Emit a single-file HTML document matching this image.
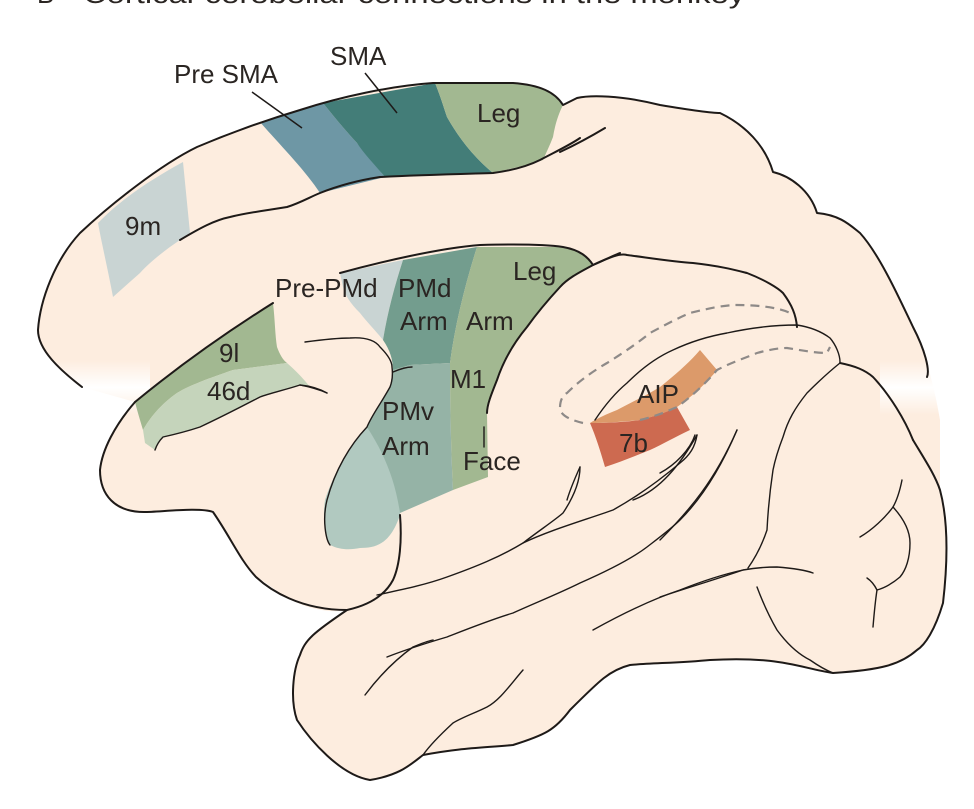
<!DOCTYPE html>
<html><head><meta charset="utf-8"><style>
html,body{margin:0;padding:0;background:#fff;}
svg{display:block;}
text{font-family:"Liberation Sans",Arial,sans-serif;font-size:26px;fill:#2a2522;}
</style></head><body>
<svg width="974" height="809" viewBox="0 0 974 809" xmlns="http://www.w3.org/2000/svg">
<defs>
<linearGradient id="fadeL" x1="0" y1="0" x2="0" y2="1">
<stop offset="0" stop-color="#fff" stop-opacity="0"/>
<stop offset="0.5" stop-color="#fff" stop-opacity="1"/>
<stop offset="1" stop-color="#fff" stop-opacity="0"/>
</linearGradient>
</defs>
<text x="37" y="3" font-size="28">B</text>
<text x="83" y="3" font-size="28" textLength="662" lengthAdjust="spacingAndGlyphs">Cortical-cerebellar connections in the monkey</text>

<!-- silhouette fill -->
<path fill="#fdeddf" d="M82,387 C60,370 38,350 38,330 C40,300 55,260 80,233 C110,205 160,165 197,147 C230,133 260,122 300,110 C340,97 390,86 433,83 L513,83 C540,85 555,92 563,105 L577,98 C590,95 620,95 660,105 C690,110 710,113 720,113 C745,125 765,145 773,172 C790,176 810,190 817,213 C840,215 850,225 860,233 C880,255 900,300 913,327 C925,350 935,390 940,420 L940,490 C948,520 948,560 943,603 C935,630 925,645 917,650 C900,665 880,670 833,673 C800,668 780,656 710,660 C680,663 650,663 630,665 C610,670 600,680 570,710 C555,730 545,735 513,745 C480,748 460,748 423,755 C410,765 400,775 370,780 C340,775 310,740 297,720 C290,700 293,670 300,655 C305,640 313,633 347,610 C330,614 300,608 280,593 C265,583 258,577 256,577 C240,560 231,538 213,512 C200,507 160,512 144,512 C115,515 100,495 100,470 C102,450 110,430 135,402 Z"/>
<rect x="0" y="360" width="150" height="55" fill="url(#fadeL)"/>
<rect x="880" y="360" width="94" height="55" fill="url(#fadeL)"/>

<!-- colored regions -->
<path fill="#c9d4d3" d="M98,223 C120,200 150,180 183,162 L190,233 L180,240 C165,250 150,262 140,273 L113,297 C108,270 102,245 98,223 Z"/>
<path fill="#6e97a5" d="M260,122 L323,103 C335,118 345,130 357,143 L385,177 L320,193 C305,170 280,145 260,122 Z"/>
<path fill="#437d78" d="M323,103 L435,83 C440,95 443,105 447,117 C460,140 475,158 493,173 L385,177 C375,165 365,155 357,143 C345,130 335,118 323,103 Z"/>
<path fill="#a2b891" d="M435,83 L513,83 C540,85 555,92 563,105 C558,115 555,125 553,137 C550,145 546,153 543,160 C520,167 505,170 493,173 C475,158 460,140 447,117 C443,105 440,95 435,83 Z"/>

<path fill="#c9d4d3" d="M340,273 L403,260 C395,285 388,310 383,340 C375,330 367,322 360,313 C350,303 345,295 343,287 Z"/>
<path fill="#739d8e" d="M403,260 L477,247 C465,285 455,325 450,363 L410,365 L393,370 C393,360 390,350 383,340 C388,310 395,285 403,260 Z"/>
<path fill="#a2b891" d="M477,247 L563,247 C580,250 588,257 593,265 C580,272 568,278 560,287 C548,300 537,313 527,327 C512,345 503,362 497,380 C491,395 487,405 487,413 L488,477 L453,490 C451,450 450,405 450,363 C455,325 465,285 477,247 Z"/>
<path fill="#b1c9c0" d="M392,367 C392,375 391,382 390,387 C380,405 372,415 367,427 C350,445 335,470 325,500 C322,520 326,540 330,545 C340,550 350,550 360,548 C375,548 390,545 400,515 L400,500 Z"/>
<path fill="#95b3a6" d="M393,370 L410,365 L450,363 C450,405 451,450 453,490 L400,513 C395,480 385,455 367,427 C372,415 380,405 390,387 Z"/>
<path fill="#a2b891" d="M273,303 C275,320 275,335 277,347 C280,355 283,360 287,363 L233,370 C210,378 190,385 177,393 C160,405 150,418 143,430 C140,420 137,410 135,402 C180,365 230,330 273,303 Z"/>
<path fill="#c5d4bb" d="M287,363 C295,370 303,378 310,387 L300,385 C285,390 270,393 260,397 C235,410 215,420 200,427 C185,432 172,435 163,437 C158,442 156,447 155,450 L145,443 L143,430 C150,418 160,405 177,393 C190,385 210,378 233,370 Z"/>
<path fill="#dc9a6a" d="M700,350 L717,370 C705,385 690,398 677,407 C665,413 652,417 640,420 C620,422 605,423 590,423 C598,418 607,414 617,410 C632,402 647,395 660,387 C675,375 690,362 700,350 Z"/>
<path fill="#cd6a50" d="M590,423 C610,423 625,422 640,420 C652,417 665,413 677,407 L690,430 C675,437 663,444 650,450 C635,456 620,462 605,467 C600,450 596,437 590,423 Z"/>

<!-- outlines -->
<g fill="none" stroke="#1e1a18" stroke-width="2" stroke-linecap="round" stroke-linejoin="round">
<path d="M82,387 C60,370 38,350 38,330 C40,300 55,260 80,233 C110,205 160,165 197,147 C230,133 260,122 300,110 C340,97 390,86 433,83 L513,83 C540,85 555,92 563,105 L577,98 C590,95 620,95 660,105 C690,110 710,113 720,113 C745,125 765,145 773,172 C790,176 810,190 817,213 C840,215 850,225 860,233 C880,255 900,300 913,327 C925,350 930,370 927,377"/>
<path d="M913,440 C925,460 935,475 940,490 C948,520 948,560 943,603 C935,630 925,645 917,650 C900,665 880,670 833,673 C800,668 780,656 710,660 C680,663 650,663 630,665 C610,670 600,680 570,710 C555,730 545,735 513,745 C480,748 460,748 423,755 C410,765 400,775 370,780 C340,775 310,740 297,720 C290,700 293,670 300,655 C305,640 313,633 347,610"/>
<path d="M135,402 C115,425 102,450 100,470 C100,495 115,512 144,512 C160,512 200,507 213,512 C231,538 240,560 256,577 C270,590 300,610 347,610 C370,605 385,595 393,580 C400,565 402,540 400,515"/>
<path d="M135,402 C180,365 230,330 273,303"/>
<path d="M340,273 C380,262 440,248 480,245 C520,244 550,245 563,247 C580,250 588,257 593,265 C605,260 612,256 620,253"/>
<path d="M593,265 C580,272 568,278 560,287 C548,300 537,313 527,327 C512,345 503,362 497,380 C491,395 487,405 487,413"/>
<path d="M593,265 C610,257 620,253 627,255 C650,258 675,262 693,263 C720,266 735,270 747,273 C765,280 778,288 783,293 C792,305 796,315 797,327"/>
<path d="M180,240 C200,228 215,220 230,217 C250,212 270,210 287,207 C300,203 310,197 320,193 C340,185 360,180 380,177 C420,175 460,174 493,173 C515,170 530,165 540,160 C555,152 570,145 580,138"/>
<path d="M560,152 C575,145 590,137 605,128"/>
<path d="M840,363 C855,366 865,370 873,377 C890,395 905,420 913,440"/>
</g>
<g fill="none" stroke="#1e1a18" stroke-width="1.4" stroke-linecap="round" stroke-linejoin="round">
<path d="M305,342 C320,340 340,338 350,338 C365,337 375,340 380,347 C388,355 392,362 392,367 C393,375 392,382 390,387 C380,405 372,415 367,427 C350,445 335,470 327,500 C322,520 326,540 330,545"/>
<path d="M393,372 C400,369 406,367 412,367"/>
<path d="M300,385 C310,387 320,390 327,393"/>
<path d="M327,393 C318,388 310,386 300,385 C285,390 270,393 260,397 C235,410 215,420 200,427 C185,432 172,435 163,437 C158,442 156,447 155,450"/>
<path d="M484,427 L484,447"/>
<path d="M377,595 C400,590 425,585 447,577 C475,567 500,557 523,543 C540,530 555,520 563,513 C575,495 580,480 580,467"/>
<path d="M523,543 C550,530 585,520 613,510 C640,495 660,480 680,463 C690,455 695,447 697,435"/>
<path d="M387,657 C410,648 430,642 447,637 C470,628 490,620 513,613 C535,603 560,593 580,583 C605,572 630,560 647,547 C660,537 672,528 680,520 C700,500 720,470 737,430"/>
<path d="M365,695 C380,675 395,660 413,647 C420,644 428,641 433,640"/>
<path d="M593,630 C620,615 650,600 680,590 C700,582 720,575 743,570 C760,567 770,567 777,567 C790,568 805,570 813,573"/>
<path d="M523,670 C510,685 500,700 487,707 C475,713 463,717 453,723 C440,735 430,745 423,755"/>
<path d="M567,500 C570,490 575,478 580,467"/>
<path d="M633,500 C660,490 680,465 697,435"/>
<path d="M660,473 C675,465 690,450 695,435"/>
<path d="M660,540 C690,510 715,480 737,430"/>
<path d="M595,420 C605,405 615,393 627,383 C640,370 655,358 673,350 C690,342 710,336 727,333 C750,328 775,325 797,325 C810,327 822,332 830,338 C836,345 840,355 840,362"/>
<path d="M840,363 C825,375 815,385 807,393 C795,408 788,420 783,437 C778,450 775,460 773,470 C770,490 768,510 767,530 C762,545 755,558 748,568"/>
<path d="M757,587 C763,603 770,618 777,630 C788,645 800,655 810,660 C820,667 828,671 833,673"/>
<path d="M902,480 C900,490 897,500 893,507 C885,518 872,530 860,537"/>
<path d="M893,507 C903,518 910,530 910,543 C910,558 906,570 900,577 C893,583 884,588 877,590 C874,584 870,580 867,578"/>
<path d="M877,590 C875,603 874,615 873,627"/>
<path d="M660,597 C690,587 720,578 743,570"/>
</g>
<g fill="none" stroke="#8e8a88" stroke-width="2.2" stroke-dasharray="9,6">
<path d="M583,423 C570,420 560,415 560,408 C560,400 563,395 567,393 C580,380 595,370 607,363 C620,355 635,345 650,333 C665,325 678,318 690,313 C710,308 725,305 737,305 C760,305 780,308 790,313"/>
<path d="M640,420 C660,415 670,410 677,407 C690,398 705,384 717,370 C730,363 745,358 757,353 C768,350 778,348 787,348 C800,350 815,353 827,353 L830,347"/>
</g>
<!-- leaders -->
<g stroke="#1e1a18" stroke-width="1.5">
<line x1="252" y1="92" x2="302" y2="128"/>
<line x1="365" y1="73" x2="397" y2="113"/>
</g>
<!-- labels -->
<text x="174" y="83">Pre SMA</text>
<text x="330" y="65">SMA</text>
<text x="477" y="122">Leg</text>
<text x="125" y="235">9m</text>
<text x="275" y="297">Pre-PMd</text>
<text x="398" y="297">PMd</text>
<text x="400" y="330">Arm</text>
<text x="513" y="280">Leg</text>
<text x="466" y="330">Arm</text>
<text x="450" y="388">M1</text>
<text x="382" y="420">PMv</text>
<text x="382" y="455">Arm</text>
<text x="463" y="470">Face</text>
<text x="219" y="362">9l</text>
<text x="207" y="400">46d</text>
<text x="637" y="403">AIP</text>
<text x="619" y="452">7b</text>
</svg>
</body></html>
